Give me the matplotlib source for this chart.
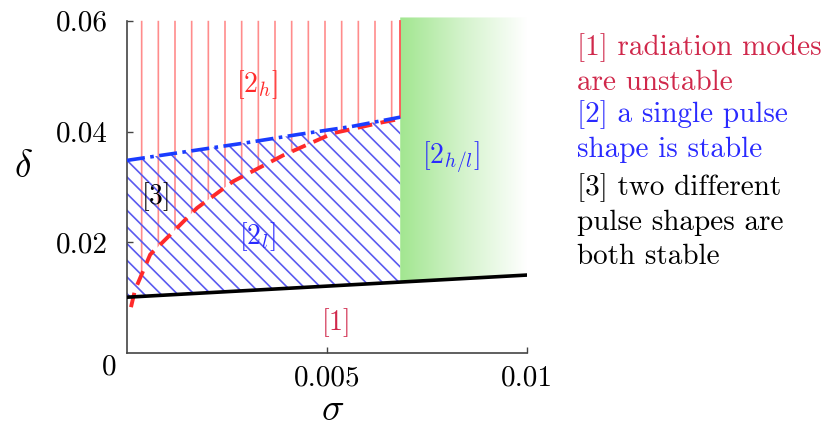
import numpy as np
import matplotlib
matplotlib.use("Agg")
import matplotlib.pyplot as plt
from matplotlib.colors import LinearSegmentedColormap
from matplotlib.patches import Polygon

plt.rcParams['font.family'] = 'serif'
plt.rcParams['font.serif'] = ['cmr10', 'DejaVu Serif']
plt.rcParams['mathtext.fontset'] = 'cm'
plt.rcParams['axes.unicode_minus'] = False
plt.rcParams['hatch.linewidth'] = 1.2

# boundary between [1] and the rest (linear)
sig_black = [0.0, 0.01]
del_black = [0.0101, 0.0141]

# upper limit of the low-amplitude branch (blue dash-dot)
sig_blue = [0.0, 0.0015, 0.0030, 0.0043, 0.0056, 0.00683]
del_blue = [0.0348, 0.0364, 0.0380, 0.0395, 0.0409, 0.0426]

# lower limit of the high-amplitude branch (red dashed)
sig_red = [0.0001, 0.0002, 0.00058, 0.001, 0.00175, 0.00265, 0.0039, 0.00515, 0.0064, 0.00683]
del_red = [0.0083, 0.0114, 0.0178, 0.0208, 0.0262, 0.0310, 0.0357, 0.0397, 0.0417, 0.0423]

sig_c = 0.00683     # start of the [2_h/l] region
del_top = 0.06

crimson = '#d0284b'
blue = '#2a2aff'
red = '#ff2a2a'

fig = plt.figure(figsize=(8.3, 4.26), dpi=100)
ax = fig.add_axes([0.153, 0.171, 0.482, 0.788])
ax.set_xlim(0, 0.01)
ax.set_ylim(0, 0.0606)

def black_at(s):
    return np.interp(s, sig_black, del_black)

# region [2_h]: above red curve, vertical hatching
s_r = np.array([0.0] + sig_red)
d_r = np.maximum(np.array([black_at(0.0)] + del_red), black_at(s_r))
ax.fill_between(s_r, d_r, del_top, facecolor='none', edgecolor='#ff8c8c',
                hatch='|', linewidth=0)
ax.plot([sig_c, sig_c], [del_blue[-1], del_top], color='#ff5555', lw=1.3)

# region [2_l]: between black line and blue line, diagonal hatching
s_b = np.array(sig_blue)
ax.fill_between(s_b, black_at(s_b), del_blue, facecolor='none', edgecolor='#5a5af0',
                hatch='\\\\', linewidth=0)

# region [2_h/l]: green gradient
poly = Polygon([(sig_c, black_at(sig_c)), (0.01, black_at(0.01)),
                (0.01, 0.0606), (sig_c, 0.0606)], closed=True,
               facecolor='none', edgecolor='none')
ax.add_patch(poly)
cmap = LinearSegmentedColormap.from_list('gr', ['#a2e690', '#d4f3cc', '#ffffff'])
grad = np.linspace(0, 1, 256).reshape(1, -1)
im = ax.imshow(grad, cmap=cmap, extent=[sig_c, 0.01, 0, 0.0606], aspect='auto',
               origin='lower', zorder=1)
im.set_clip_path(poly)

# boundary curves
ax.plot(sig_red, del_red, color=red, lw=2.8, dashes=(3.8, 2.2), zorder=4)
ax.plot(sig_blue, del_blue, color='#1a3cff', lw=2.6, dashes=(5, 1.5, 1, 1.5), zorder=4)
ax.plot(sig_black, del_black, color='black', lw=2.6, zorder=5)

# region labels
ax.text(0.00325, 0.0484, r'$[2_h]$', color=red, fontsize=20, ha='center', va='center')
ax.text(0.00325, 0.0210, r'$[2_l]$', color=blue, fontsize=20, ha='center', va='center')
ax.text(0.0007, 0.0282, r'$[3]$', color='black', fontsize=20, ha='center', va='center')
ax.text(0.0052, 0.0056, r'$[1]$', color=crimson, fontsize=20, ha='center', va='center')
ax.text(0.0081, 0.0354, r'$[2_{h/l}]$', color=blue, fontsize=20, ha='center', va='center')

# axes
for side in ['top', 'right']:
    ax.spines[side].set_visible(False)
for side in ['left', 'bottom']:
    ax.spines[side].set_color('#444444')
    ax.spines[side].set_linewidth(1.2)
ax.spines['left'].set_bounds(0, 0.06)
ax.set_xticks([0.005, 0.01])
ax.set_xticklabels(['0.005', '0.01'])
ax.set_yticks([0.02, 0.04, 0.06])
ax.set_yticklabels(['0.02', '0.04', '0.06'])
ax.tick_params(direction='in', length=4, width=1, color='#444444', labelsize=21)
ax.tick_params(axis='x', pad=9)
ax.tick_params(axis='y', pad=14)
ax.text(-0.00045, -0.0025, '0', fontsize=21, ha='center', va='center', clip_on=False)

ax.set_xlabel(r'$\sigma$', fontsize=27, va='center')
ax.xaxis.set_label_coords(0.515, -0.17)
ax.set_ylabel(r'$\delta$', fontsize=27, rotation=0, va='center', ha='center')
ax.yaxis.set_label_coords(-0.26, 0.554)

# legend text
fig.text(0.695, 1 - 33 / 426, '[1] radiation modes\nare unstable', color=crimson,
         fontsize=21, va='top', linespacing=1.38)
fig.text(0.695, 1 - 100 / 426, '[2] a single pulse\nshape is stable', color=blue,
         fontsize=21, va='top', linespacing=1.38)
fig.text(0.695, 1 - 173 / 426, '[3] two different\npulse shapes are\nboth stable', color='black',
         fontsize=21, va='top', linespacing=1.38)

fig.savefig('out.png', dpi=100)
